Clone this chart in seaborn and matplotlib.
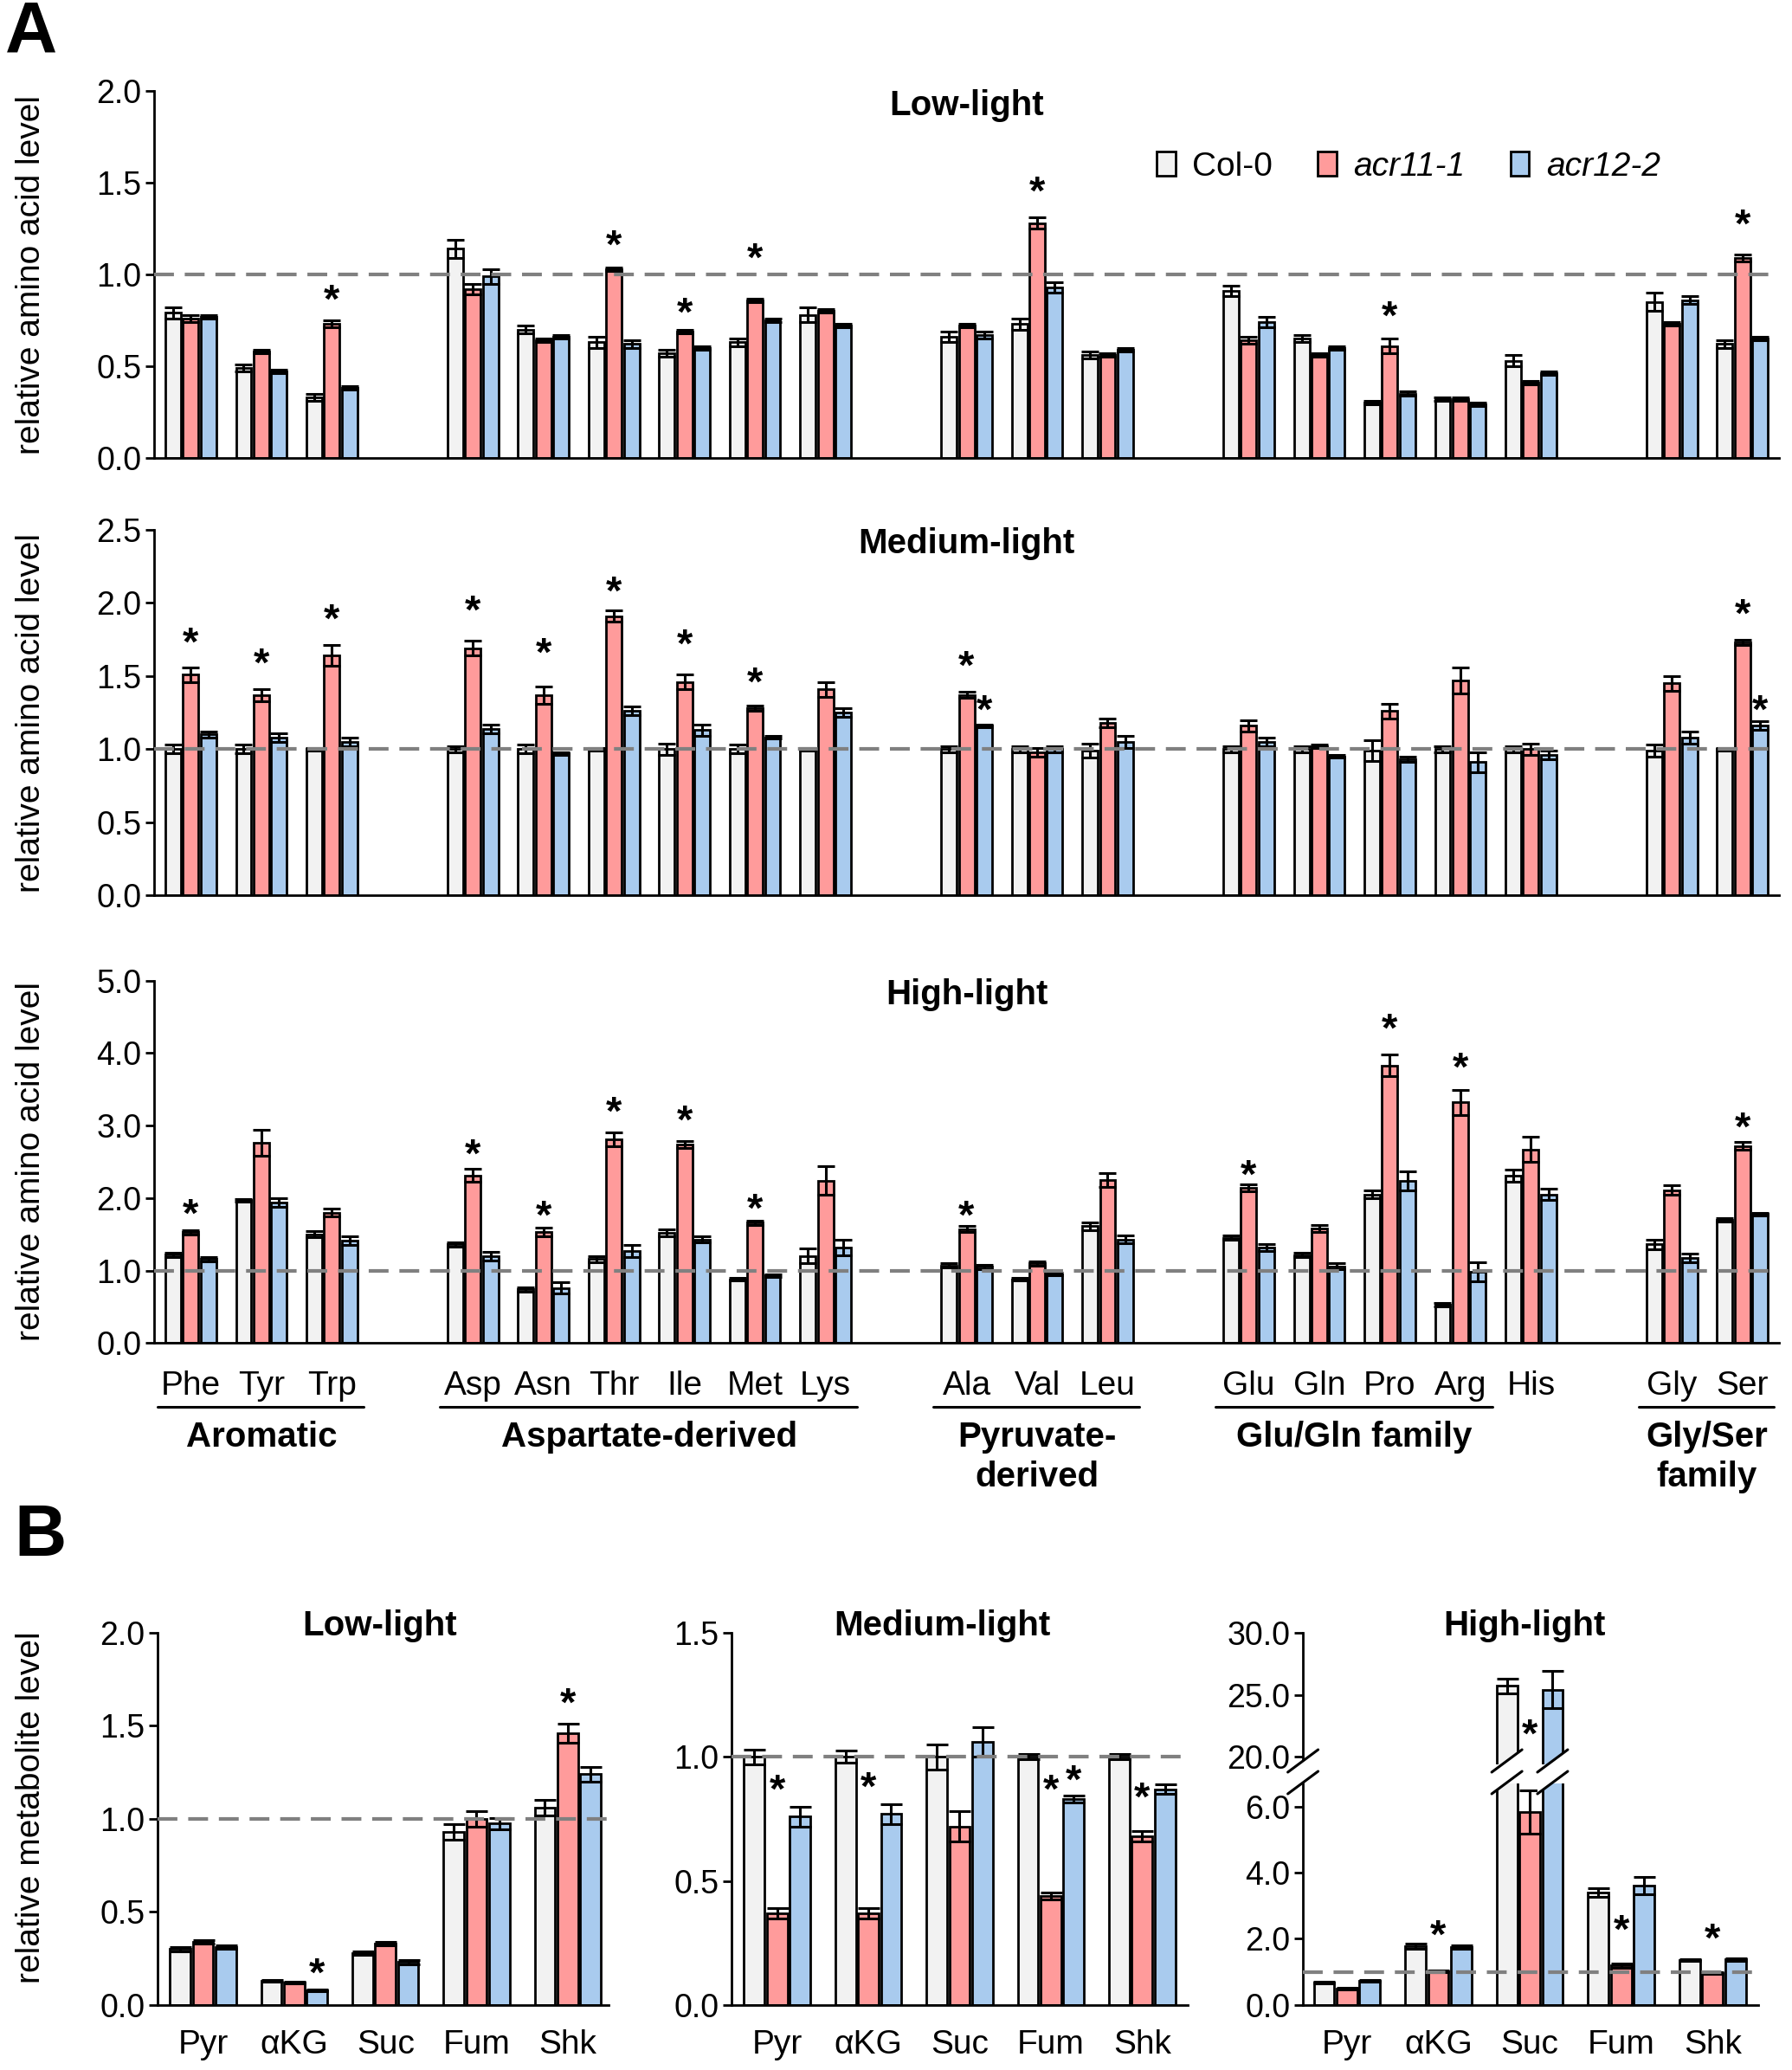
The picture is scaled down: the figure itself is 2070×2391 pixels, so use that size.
import numpy as np
import pandas as pd
import matplotlib
matplotlib.use("Agg")
import matplotlib.pyplot as plt
import matplotlib.colors as mcolors
from matplotlib.patches import Patch, Polygon
from matplotlib.lines import Line2D
import seaborn as sns

sns.set_theme(style="ticks")
plt.rcParams["font.family"] = ["Liberation Sans", "DejaVu Sans"]
plt.rcParams["axes.linewidth"] = 2.0
plt.rcParams["xtick.major.width"] = 2.0
plt.rcParams["ytick.major.width"] = 2.0
for key in ("text.color", "axes.labelcolor", "xtick.color", "ytick.color", "axes.edgecolor"):
    plt.rcParams[key] = "black"

GENOTYPES = ["Col-0", "acr11-1", "acr12-2"]
COLORS = ["#F2F2F2", "#FF9B9B", "#A9CBEE"]

# ---------------- Panel A : amino acids ----------------
aa_names = ["Phe", "Tyr", "Trp", "Asp", "Asn", "Thr", "Ile", "Met", "Lys",
            "Ala", "Val", "Leu", "Glu", "Gln", "Pro", "Arg", "His", "Gly", "Ser"]
aa_order = ["Phe", "Tyr", "Trp", "_g1", "Asp", "Asn", "Thr", "Ile", "Met", "Lys",
            "_g2", "Ala", "Val", "Leu", "_g3", "Glu", "Gln", "Pro", "Arg", "His",
            "_g4", "Gly", "Ser"]
aa_groups = [("Aromatic", "Phe", "Trp"), ("Aspartate-derived", "Asp", "Lys"),
             ("Pyruvate-\nderived", "Ala", "Leu"), ("Glu/Gln family", "Glu", "Arg"),
             ("Gly/Ser\nfamily", "Gly", "Ser")]

low_col0 = [0.79, 0.49, 0.33, 1.14, 0.70, 0.63, 0.57, 0.63, 0.78, 0.66, 0.73, 0.56, 0.91, 0.65, 0.30, 0.32, 0.53, 0.85, 0.62]
low_col0_err = [0.03, 0.02, 0.02, 0.05, 0.02, 0.03, 0.02, 0.02, 0.04, 0.03, 0.03, 0.02, 0.03, 0.02, 0.01, 0.01, 0.03, 0.05, 0.02]
low_acr11 = [0.76, 0.58, 0.73, 0.92, 0.64, 1.03, 0.69, 0.86, 0.80, 0.72, 1.28, 0.56, 0.64, 0.56, 0.61, 0.32, 0.41, 0.73, 1.09]
low_acr11_err = [0.02, 0.01, 0.02, 0.03, 0.01, 0.01, 0.01, 0.01, 0.01, 0.01, 0.03, 0.01, 0.02, 0.01, 0.04, 0.01, 0.01, 0.01, 0.02]
low_acr12 = [0.77, 0.47, 0.38, 0.99, 0.66, 0.62, 0.60, 0.75, 0.72, 0.67, 0.93, 0.59, 0.74, 0.60, 0.35, 0.29, 0.46, 0.86, 0.65]
low_acr12_err = [0.01, 0.01, 0.01, 0.04, 0.01, 0.02, 0.01, 0.01, 0.01, 0.02, 0.03, 0.01, 0.03, 0.01, 0.01, 0.01, 0.01, 0.02, 0.01]
low_stars = [("Trp", "acr11-1", 0.92), ("Thr", "acr11-1", 1.22), ("Ile", "acr11-1", 0.85),
             ("Met", "acr11-1", 1.15), ("Val", "acr11-1", 1.51), ("Pro", "acr11-1", 0.83),
             ("Ser", "acr11-1", 1.33)]

med_col0 = [1.00, 1.00, 1.00, 1.00, 1.00, 1.00, 1.00, 1.00, 1.00, 1.00, 1.00, 0.99, 1.00, 1.00, 0.99, 1.00, 1.00, 0.99, 1.00]
med_col0_err = [0.03, 0.03, 0.01, 0.02, 0.03, 0.01, 0.04, 0.03, 0.01, 0.02, 0.02, 0.05, 0.02, 0.02, 0.07, 0.02, 0.02, 0.04, 0.01]
med_acr11 = [1.51, 1.37, 1.64, 1.69, 1.37, 1.91, 1.46, 1.28, 1.41, 1.37, 0.98, 1.18, 1.16, 1.02, 1.26, 1.47, 1.00, 1.45, 1.73]
med_acr11_err = [0.05, 0.04, 0.07, 0.05, 0.06, 0.04, 0.05, 0.02, 0.05, 0.02, 0.03, 0.03, 0.04, 0.01, 0.05, 0.09, 0.04, 0.05, 0.02]
med_acr12 = [1.10, 1.08, 1.05, 1.14, 0.97, 1.26, 1.13, 1.08, 1.25, 1.16, 1.00, 1.05, 1.05, 0.95, 0.93, 0.91, 0.96, 1.08, 1.16]
med_acr12_err = [0.02, 0.03, 0.03, 0.03, 0.01, 0.03, 0.04, 0.01, 0.03, 0.01, 0.02, 0.04, 0.03, 0.01, 0.02, 0.07, 0.03, 0.04, 0.03]
med_stars = [("Phe", "acr11-1", 1.80), ("Tyr", "acr11-1", 1.66), ("Trp", "acr11-1", 1.96),
             ("Asp", "acr11-1", 2.02), ("Asn", "acr11-1", 1.73), ("Thr", "acr11-1", 2.15),
             ("Ile", "acr11-1", 1.79), ("Met", "acr11-1", 1.53), ("Ala", "acr11-1", 1.64),
             ("Ala", "acr12-2", 1.34), ("Ser", "acr11-1", 2.00), ("Ser", "acr12-2", 1.34)]

high_col0 = [1.22, 1.97, 1.50, 1.36, 0.74, 1.16, 1.52, 0.88, 1.20, 1.07, 0.88, 1.61, 1.45, 1.21, 2.05, 0.53, 2.31, 1.36, 1.70]
high_col0_err = [0.03, 0.02, 0.04, 0.03, 0.03, 0.04, 0.05, 0.02, 0.10, 0.03, 0.02, 0.05, 0.03, 0.03, 0.05, 0.02, 0.08, 0.07, 0.02]
high_acr11 = [1.53, 2.76, 1.80, 2.31, 1.53, 2.81, 2.74, 1.66, 2.24, 1.57, 1.10, 2.25, 2.14, 1.58, 3.83, 3.32, 2.67, 2.11, 2.72]
high_acr11_err = [0.03, 0.18, 0.05, 0.09, 0.06, 0.09, 0.05, 0.03, 0.20, 0.04, 0.03, 0.10, 0.05, 0.05, 0.15, 0.17, 0.17, 0.07, 0.05]
high_acr12 = [1.16, 1.94, 1.41, 1.20, 0.76, 1.27, 1.43, 0.93, 1.32, 1.05, 0.95, 1.43, 1.32, 1.06, 2.24, 0.98, 2.05, 1.17, 1.78]
high_acr12_err = [0.03, 0.06, 0.06, 0.06, 0.08, 0.08, 0.04, 0.02, 0.11, 0.03, 0.02, 0.05, 0.05, 0.04, 0.13, 0.13, 0.08, 0.06, 0.02]
high_stars = [("Phe", "acr11-1", 1.93), ("Asp", "acr11-1", 2.75), ("Asn", "acr11-1", 1.91),
              ("Thr", "acr11-1", 3.34), ("Ile", "acr11-1", 3.22), ("Met", "acr11-1", 2.00),
              ("Ala", "acr11-1", 1.91), ("Glu", "acr11-1", 2.46), ("Pro", "acr11-1", 4.48),
              ("Arg", "acr11-1", 3.95), ("Ser", "acr11-1", 3.12)]

# ---------------- Panel B : organic acids ----------------
met_names = ["Pyr", "αKG", "Suc", "Fum", "Shk"]

bl_col0 = [0.30, 0.13, 0.28, 0.93, 1.06]
bl_col0_err = [0.01, 0.005, 0.01, 0.04, 0.04]
bl_acr11 = [0.34, 0.12, 0.33, 1.00, 1.46]
bl_acr11_err = [0.01, 0.005, 0.01, 0.04, 0.05]
bl_acr12 = [0.31, 0.08, 0.23, 0.975, 1.24]
bl_acr12_err = [0.01, 0.005, 0.01, 0.03, 0.04]
bl_stars = [("αKG", "acr12-2", 0.23), ("Shk", "acr11-1", 1.68)]

bm_col0 = [1.00, 1.00, 1.00, 1.00, 1.00]
bm_col0_err = [0.03, 0.025, 0.05, 0.01, 0.01]
bm_acr11 = [0.37, 0.37, 0.72, 0.44, 0.68]
bm_acr11_err = [0.02, 0.02, 0.06, 0.015, 0.02]
bm_acr12 = [0.76, 0.77, 1.06, 0.83, 0.87]
bm_acr12_err = [0.04, 0.04, 0.06, 0.015, 0.02]
bm_stars = [("Pyr", "acr11-1", 0.91), ("αKG", "acr11-1", 0.92), ("Fum", "acr11-1", 0.91),
            ("Fum", "acr12-2", 0.95), ("Shk", "acr11-1", 0.88)]

bh_col0 = [0.67, 1.78, 25.72, 3.40, 1.35]
bh_col0_err = [0.03, 0.08, 0.6, 0.13, 0.03]
bh_acr11 = [0.49, 1.02, 5.83, 1.19, 0.97]
bh_acr11_err = [0.03, 0.03, 0.65, 0.06, 0.02]
bh_acr12 = [0.73, 1.75, 25.43, 3.61, 1.38]
bh_acr12_err = [0.03, 0.06, 1.5, 0.25, 0.04]
bh_stars = [("αKG", "acr11-1", 2.43), ("Suc", "acr11-1", 22.7), ("Fum", "acr11-1", 2.59),
            ("Shk", "acr11-1", 2.32)]

FW, FH = 20.7, 23.91
TICK_FS = 27
LAB_FS = 28
TITLE_FS = 29
STAR_FS = 34


def long_df(names, col0, acr11, acr12):
    return pd.DataFrame({
        "name": list(names) * 3,
        "genotype": np.repeat(GENOTYPES, len(names)),
        "value": list(col0) + list(acr11) + list(acr12),
    })


def draw_bars(ax, order, names, vals, errs, width, gap, capsize):
    df = long_df(names, *vals)
    sns.barplot(data=df, x="name", y="value", hue="genotype", order=order,
                hue_order=GENOTYPES, palette=dict(zip(GENOTYPES, COLORS)),
                saturation=1, width=width, gap=gap, errorbar=None,
                edgecolor="black", linewidth=2.0, legend=False, ax=ax)
    rgba = {g: np.array(mcolors.to_rgba(c)) for g, c in zip(GENOTYPES, COLORS)}
    centers = {}
    for p in ax.patches:
        xc = p.get_x() + p.get_width() / 2
        name = order[int(round(xc))]
        fc = np.array(p.get_facecolor())
        geno = min(GENOTYPES, key=lambda g: np.abs(fc - rgba[g]).sum())
        centers[(name, geno)] = xc
    for g, v, e in zip(GENOTYPES, vals, errs):
        xs = [centers[(n, g)] for n in names]
        ax.errorbar(xs, v, yerr=e, fmt="none", ecolor="black", elinewidth=2.2,
                    capsize=capsize, capthick=2.2, zorder=5)
    ax.set_xlabel("")
    ax.set_ylabel("")
    sns.despine(ax=ax)
    ax.tick_params(axis="y", labelsize=TICK_FS, length=7, width=2)
    ax.tick_params(axis="x", length=0, labelsize=LAB_FS)
    return centers


def add_stars(ax, centers, stars):
    for name, geno, y in stars:
        ax.annotate("*", (centers[(name, geno)], y), xytext=(0, -0.57 * STAR_FS),
                    textcoords="offset points", ha="center", va="baseline",
                    fontsize=STAR_FS, fontweight="bold", zorder=6, annotation_clip=False)


def ref_line(ax):
    ax.axhline(1.0, color="#808080", lw=3, ls=(0, (5.5, 3.0)), zorder=7)


def set_xlabels(ax, order, names, pad):
    ax.set_xticks(range(len(order)))
    ax.set_xticklabels([o if o in names else "" for o in order])
    ax.tick_params(axis="x", pad=pad)


fig = plt.figure(figsize=(FW, FH), dpi=100)

# ---------- A ----------
a_left, a_width = 0.086, 0.9068
a_rows = [
    ("Low-light", [a_left, 0.7789, a_width, 0.1770], (low_col0, low_acr11, low_acr12),
     (low_col0_err, low_acr11_err, low_acr12_err), low_stars, 2.0, 0.5),
    ("Medium-light", [a_left, 0.5675, a_width, 0.1765], (med_col0, med_acr11, med_acr12),
     (med_col0_err, med_acr11_err, med_acr12_err), med_stars, 2.5, 0.5),
    ("High-light", [a_left, 0.3512, a_width, 0.1751], (high_col0, high_acr11, high_acr12),
     (high_col0_err, high_acr11_err, high_acr12_err), high_stars, 5.0, 1.0),
]
a_axes = []
for title, rect, vals, errs, stars, ymax, ystep in a_rows:
    ax = fig.add_axes(rect)
    centers = draw_bars(ax, aa_order, aa_names, vals, errs, width=0.75, gap=0.12, capsize=7)
    ax.set_ylim(0, ymax)
    ax.set_yticks(np.arange(0, ymax + 1e-9, ystep))
    ax.set_yticklabels([f"{t:.1f}" for t in np.arange(0, ymax + 1e-9, ystep)])
    ax.set_xlim(-0.52, len(aa_order) - 0.48)
    ref_line(ax)
    add_stars(ax, centers, stars)
    ax.text(0.5, 0.962, title, transform=ax.transAxes, ha="center", va="center",
            fontsize=TITLE_FS, fontweight="bold")
    ax.set_ylabel("relative amino acid level", fontsize=LAB_FS)
    ax.yaxis.set_label_coords(-0.066, 0.5)
    ax.set_xticks([])
    a_axes.append(ax)

ax_hi = a_axes[2]
set_xlabels(ax_hi, aa_order, aa_names, pad=23)
xtr = ax_hi.get_xaxis_transform()
for label, first, last in aa_groups:
    x0 = aa_order.index(first) - 0.47
    x1 = aa_order.index(last) + 0.45
    ax_hi.plot([x0, x1], [-0.176, -0.176], color="black", lw=2.2, transform=xtr, clip_on=False)
    ax_hi.text((aa_order.index(first) + aa_order.index(last)) / 2, -0.214, label,
               transform=xtr, ha="center", va="top", fontsize=TITLE_FS, fontweight="bold",
               linespacing=1.28)

handles = [Patch(facecolor=c, edgecolor="black", linewidth=2) for c in COLORS]
leg = a_axes[0].legend(handles, GENOTYPES, loc="center left", bbox_to_anchor=(0.617, 0.794),
                       ncol=3, frameon=False, fontsize=LAB_FS, handlelength=0.55,
                       handleheight=0.7, handletextpad=0.5, columnspacing=1.35,
                       borderpad=0, borderaxespad=0)
for t in leg.get_texts()[1:]:
    t.set_style("italic")

# ---------- B ----------
b_order = met_names
b_panels = [
    ("Low-light", [0.0879, 0.0314, 0.2518, 0.1798], (bl_col0, bl_acr11, bl_acr12),
     (bl_col0_err, bl_acr11_err, bl_acr12_err), bl_stars, 2.0, (-0.5, 4.45)),
    ("Medium-light", [0.4082, 0.0314, 0.2546, 0.1798], (bm_col0, bm_acr11, bm_acr12),
     (bm_col0_err, bm_acr11_err, bm_acr12_err), bm_stars, 1.5, (-0.5, 4.5)),
]
b_titles_x = [0.2117, 0.5258, 0.8507]
for (title, rect, vals, errs, stars, ymax, xl), tx in zip(b_panels, b_titles_x):
    ax = fig.add_axes(rect)
    centers = draw_bars(ax, b_order, met_names, vals, errs, width=0.75, gap=0.1, capsize=9)
    ax.set_ylim(0, ymax)
    ticks = np.arange(0, ymax + 1e-9, 0.5)
    ax.set_yticks(ticks)
    ax.set_yticklabels([f"{t:.1f}" for t in ticks])
    ax.set_xlim(*xl)
    ref_line(ax)
    add_stars(ax, centers, stars)
    set_xlabels(ax, b_order, met_names, pad=20)
    fig.text(tx, 1 - 1878 / 2391, title, ha="center", va="center", fontsize=TITLE_FS,
             fontweight="bold")
    if title == "Low-light":
        ax.set_ylabel("relative metabolite level", fontsize=LAB_FS)
        ax.yaxis.set_label_coords(-0.245, 0.53)

# broken axis high-light
hl_left, hl_width = 0.7271, 0.2541
ax_lo = fig.add_axes([hl_left, 0.0314, hl_width, 0.1071])
ax_up = fig.add_axes([hl_left, 0.1476, hl_width, 0.0636])
hvals = (bh_col0, bh_acr11, bh_acr12)
herrs = (bh_col0_err, bh_acr11_err, bh_acr12_err)
c_lo = draw_bars(ax_lo, b_order, met_names, hvals, herrs, width=0.75, gap=0.1, capsize=9)
c_up = draw_bars(ax_up, b_order, met_names, hvals, herrs, width=0.75, gap=0.1, capsize=9)
for a in (ax_lo, ax_up):
    a.set_xlim(-0.48, 4.5)
ax_lo.set_ylim(0, 6.7)
ax_lo.set_yticks([0, 2, 4, 6])
ax_lo.set_yticklabels(["0.0", "2.0", "4.0", "6.0"])
ax_up.set_ylim(19.4, 30)
ax_up.set_yticks([20, 25, 30])
ax_up.set_yticklabels(["20.0", "25.0", "30.0"])
ax_up.spines["bottom"].set_visible(False)
ax_up.set_xticks([])
ref_line(ax_lo)
set_xlabels(ax_lo, b_order, met_names, pad=20)
add_stars(ax_lo, c_lo, [s for s in bh_stars if s[2] < 10])
add_stars(ax_up, c_up, [s for s in bh_stars if s[2] >= 10])
fig.text(b_titles_x[2], 1 - 1878 / 2391, "High-light", ha="center", va="center",
         fontsize=TITLE_FS, fontweight="bold")

# break marks (pixel geometry -> figure fraction)
W, H = FW * 100, FH * 100
y_low = 332.0
y_up = 357.0
rise = 26.0
half = 17.5
break_x = [ax_lo.transData.transform((-0.48, 0))[0]]
for g in ("Col-0", "acr12-2"):
    break_x.append(ax_lo.transData.transform((c_lo[("Suc", g)], 0))[0])
for xc in break_x:
    poly = [(xc - half, y_low - rise / 2), (xc + half, y_low + rise / 2),
            (xc + half, y_up + rise / 2), (xc - half, y_up - rise / 2)]
    fig.add_artist(Polygon([(x / W, y / H) for x, y in poly], closed=True,
                           facecolor="white", edgecolor="none", transform=fig.transFigure,
                           zorder=10))
    for yc in (y_low, y_up):
        fig.add_artist(Line2D([(xc - half) / W, (xc + half) / W],
                              [(yc - rise / 2) / H, (yc + rise / 2) / H],
                              color="black", lw=2.2, transform=fig.transFigure, zorder=11))

fig.text(0.003, 1.0, "A", ha="left", va="top", fontsize=60, fontweight="bold")
fig.text(0.008, 0.274, "B", ha="left", va="top", fontsize=60, fontweight="bold")

fig.savefig("out.png", dpi=100)
